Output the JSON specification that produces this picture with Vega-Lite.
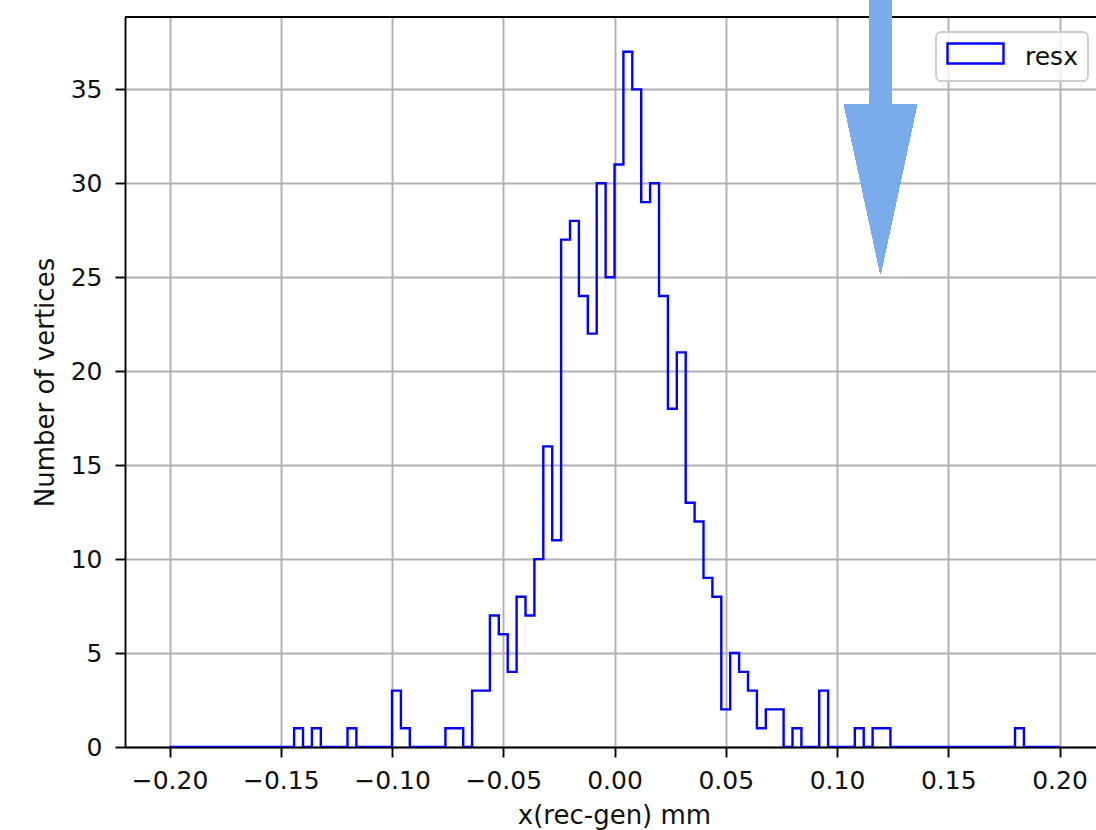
{
  "$schema": "https://vega.github.io/schema/vega-lite/v6.json",
  "width": 971,
  "height": 730,
  "autosize": {"type": "none"},
  "padding": {"left": 125, "top": 17, "right": 0, "bottom": 83},
  "background": "white",
  "config": {
    "view": {"stroke": null},
    "axis": {
      "domainColor": "black",
      "domainWidth": 1.9,
      "tickColor": "black",
      "tickWidth": 1.9,
      "tickSize": 10,
      "labelFont": "DejaVu Sans",
      "labelFontSize": 25,
      "labelColor": "#111111",
      "titleFont": "DejaVu Sans",
      "titleFontSize": 26,
      "titleFontWeight": "normal",
      "titleColor": "#111111",
      "grid": true,
      "gridColor": "#b0b0b0",
      "gridWidth": 1.9,
      "zindex": 1
    }
  },
  "data": {
    "values": [
      {"edge": -0.2, "count": 0}, {"edge": -0.196, "count": 0}, {"edge": -0.192, "count": 0}, {"edge": -0.188, "count": 0},
      {"edge": -0.184, "count": 0}, {"edge": -0.18, "count": 0}, {"edge": -0.176, "count": 0}, {"edge": -0.172, "count": 0},
      {"edge": -0.168, "count": 0}, {"edge": -0.164, "count": 0}, {"edge": -0.16, "count": 0}, {"edge": -0.156, "count": 0},
      {"edge": -0.152, "count": 0}, {"edge": -0.148, "count": 0}, {"edge": -0.144, "count": 1}, {"edge": -0.14, "count": 0},
      {"edge": -0.136, "count": 1}, {"edge": -0.132, "count": 0}, {"edge": -0.128, "count": 0}, {"edge": -0.124, "count": 0},
      {"edge": -0.12, "count": 1}, {"edge": -0.116, "count": 0}, {"edge": -0.112, "count": 0}, {"edge": -0.108, "count": 0},
      {"edge": -0.104, "count": 0}, {"edge": -0.1, "count": 3}, {"edge": -0.096, "count": 1}, {"edge": -0.092, "count": 0},
      {"edge": -0.088, "count": 0}, {"edge": -0.084, "count": 0}, {"edge": -0.08, "count": 0}, {"edge": -0.076, "count": 1},
      {"edge": -0.072, "count": 1}, {"edge": -0.068, "count": 0}, {"edge": -0.064, "count": 3}, {"edge": -0.06, "count": 3},
      {"edge": -0.056, "count": 7}, {"edge": -0.052, "count": 6}, {"edge": -0.048, "count": 4}, {"edge": -0.044, "count": 8},
      {"edge": -0.04, "count": 7}, {"edge": -0.036, "count": 10}, {"edge": -0.032, "count": 16}, {"edge": -0.028, "count": 11},
      {"edge": -0.024, "count": 27}, {"edge": -0.02, "count": 28}, {"edge": -0.016, "count": 24}, {"edge": -0.012, "count": 22},
      {"edge": -0.008, "count": 30}, {"edge": -0.004, "count": 25}, {"edge": 0.0, "count": 31}, {"edge": 0.004, "count": 37},
      {"edge": 0.008, "count": 35}, {"edge": 0.012, "count": 29}, {"edge": 0.016, "count": 30}, {"edge": 0.02, "count": 24},
      {"edge": 0.024, "count": 18}, {"edge": 0.028, "count": 21}, {"edge": 0.032, "count": 13}, {"edge": 0.036, "count": 12},
      {"edge": 0.04, "count": 9}, {"edge": 0.044, "count": 8}, {"edge": 0.048, "count": 2}, {"edge": 0.052, "count": 5},
      {"edge": 0.056, "count": 4}, {"edge": 0.06, "count": 3}, {"edge": 0.064, "count": 1}, {"edge": 0.068, "count": 2},
      {"edge": 0.072, "count": 2}, {"edge": 0.076, "count": 0}, {"edge": 0.08, "count": 1}, {"edge": 0.084, "count": 0},
      {"edge": 0.088, "count": 0}, {"edge": 0.092, "count": 3}, {"edge": 0.096, "count": 0}, {"edge": 0.1, "count": 0},
      {"edge": 0.104, "count": 0}, {"edge": 0.108, "count": 1}, {"edge": 0.112, "count": 0}, {"edge": 0.116, "count": 1},
      {"edge": 0.12, "count": 1}, {"edge": 0.124, "count": 0}, {"edge": 0.128, "count": 0}, {"edge": 0.132, "count": 0},
      {"edge": 0.136, "count": 0}, {"edge": 0.14, "count": 0}, {"edge": 0.144, "count": 0}, {"edge": 0.148, "count": 0},
      {"edge": 0.152, "count": 0}, {"edge": 0.156, "count": 0}, {"edge": 0.16, "count": 0}, {"edge": 0.164, "count": 0},
      {"edge": 0.168, "count": 0}, {"edge": 0.172, "count": 0}, {"edge": 0.176, "count": 0}, {"edge": 0.18, "count": 1},
      {"edge": 0.184, "count": 0}, {"edge": 0.188, "count": 0}, {"edge": 0.192, "count": 0}, {"edge": 0.196, "count": 0},
      {"edge": 0.2, "count": 0}
    ]
  },
  "layer": [
    {
      "mark": {"type": "line", "interpolate": "step-after", "strokeWidth": 2.4, "clip": true},
      "encoding": {
        "x": {
          "field": "edge",
          "type": "quantitative",
          "scale": {"domain": [-0.22, 0.2164], "nice": false, "zero": false},
          "axis": {
            "values": [-0.2, -0.15, -0.1, -0.05, 0, 0.05, 0.1, 0.15, 0.2],
            "format": ".2f",
            "labelFlush": false,
            "labelOverlap": false,
            "labelPadding": 11,
            "title": "x(rec-gen) mm",
            "titleX": 489,
            "titlePadding": 9
          }
        },
        "y": {
          "field": "count",
          "type": "quantitative",
          "scale": {"domain": [0, 38.85], "nice": false},
          "axis": {
            "values": [0, 5, 10, 15, 20, 25, 30, 35],
            "labelFlush": false,
            "labelPadding": 13,
            "title": "Number of vertices",
            "titlePadding": 12
          }
        },
        "color": {
          "datum": "resx",
          "scale": {"range": ["#0000ff"]},
          "legend": {
            "orient": "none",
            "legendX": 811,
            "legendY": 15,
            "title": null,
            "symbolType": "M-1,-0.464H1V0.25H-1Z",
            "symbolSize": 3136,
            "symbolStrokeWidth": 2.4,
            "symbolFillColor": "transparent",
            "symbolStrokeColor": "#0000ff",
            "labelFont": "DejaVu Sans",
            "labelFontSize": 25,
            "labelColor": "#111111",
            "labelOffset": 20,
            "padding": 10,
            "clipHeight": 29,
            "strokeColor": "#cccccc",
            "fillColor": "rgba(255,255,255,0.8)",
            "cornerRadius": 5,
            "encode": {"legend": {"update": {"strokeWidth": {"value": 1.9}}}}
          }
        }
      }
    },
    {
      "mark": {"type": "rule", "color": "black", "strokeWidth": 1.9},
      "encoding": {"y": {"datum": 38.85}}
    },
    {
      "mark": {
        "type": "point",
        "shape": "M-0.0839,-1H0.0839V-0.2387H0.2664L0,1L-0.2664,-0.2387H-0.0839Z",
        "size": 75076,
        "filled": true,
        "color": "#7aacec",
        "opacity": 1,
        "strokeWidth": 0,
        "clip": false
      },
      "encoding": {"x": {"datum": 0.11955}, "y": {"datum": 32.46}}
    }
  ]
}
